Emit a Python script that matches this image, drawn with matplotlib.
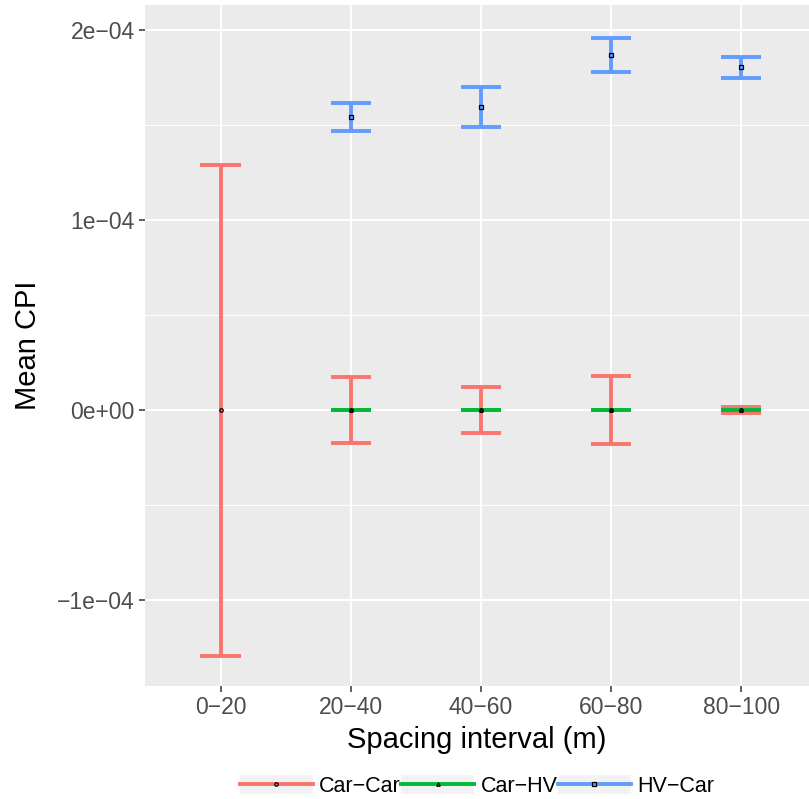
import numpy as np
import matplotlib.pyplot as plt
from matplotlib.patches import Patch
from matplotlib.lines import Line2D
from matplotlib.legend_handler import HandlerTuple
from matplotlib.ticker import FixedLocator

plt.rcParams['font.family'] = ['Liberation Sans', 'DejaVu Sans']

intervals = ['0\u221220', '20\u221240', '40\u221260', '60\u221280', '80\u2212100']
groups = ['Car\u2212Car', 'Car\u2212HV', 'HV\u2212Car']
colors = ['#F8766D', '#00BA38', '#619CFF']
markers = ['o', '^', 's']

# mean CPI and half-width of the error bars
car_car_mean = [0.0, 0.0, 0.0, 0.0, 0.0]
car_car_err = [1.29e-4, 1.75e-5, 1.2e-5, 1.8e-5, 1.5e-6]
car_hv_mean = [np.nan, 0.0, 0.0, 0.0, 0.0]
car_hv_err = [np.nan, 0.0, 0.0, 0.0, 0.0]
hv_car_mean = [np.nan, 1.542e-4, 1.595e-4, 1.868e-4, 1.803e-4]
hv_car_err = [np.nan, 7.4e-6, 1.05e-5, 8.9e-6, 5.5e-6]

means = [car_car_mean, car_hv_mean, hv_car_mean]
errs = [car_car_err, car_hv_err, hv_car_err]

fig = plt.figure(figsize=(8.09, 7.99), dpi=100)
ax = fig.add_axes([145 / 809, 1 - 686 / 799, 664 / 809, 681 / 799])
ax.set_facecolor('#EBEBEB')

x = np.arange(1, len(intervals) + 1)
half = 0.155
lw = 2.8
for m, e, c, mk in zip(means, errs, colors, markers):
    m = np.array(m)
    e = np.array(e)
    ok = ~np.isnan(m)
    ax.vlines(x[ok], (m - e)[ok], (m + e)[ok], color=c, lw=lw, zorder=3)
    ax.hlines((m - e)[ok], x[ok] - half, x[ok] + half, color=c, lw=lw, zorder=3)
    ax.hlines((m + e)[ok], x[ok] - half, x[ok] + half, color=c, lw=lw, zorder=3)
    ax.plot(x[ok], m[ok], mk, ms=2.5, markerfacecolor='none',
            markeredgecolor='black', markeredgewidth=0.9, zorder=4)

ax.set_xlim(0.42, 5.52)
ax.set_ylim(-1.45e-4, 2.13e-4)
ax.set_xticks(x)
ax.set_xticklabels(intervals)
yt = [-1e-4, 0, 1e-4, 2e-4]
ax.set_yticks(yt)
ax.set_yticklabels(['\u22121e\u221204', '0e+00', '1e\u221204', '2e\u221204'])
ax.yaxis.set_minor_locator(FixedLocator([-0.5e-4, 0.5e-4, 1.5e-4]))

ax.grid(True, which='major', color='white', lw=1.4, zorder=0)
ax.grid(True, which='minor', axis='y', color='white', lw=0.7, zorder=0)
ax.set_axisbelow(True)
for s in ax.spines.values():
    s.set_visible(False)
ax.tick_params(which='major', length=4.5, color='#333333', labelsize=16.5,
               labelcolor='#4D4D4D', width=1.1, pad=3)
ax.tick_params(which='minor', length=0)

ax.set_xlabel('Spacing interval (m)', fontsize=21, labelpad=5)
ax.set_ylabel('Mean CPI', fontsize=21)
ax.yaxis.set_label_coords(-0.155, 0.5)

handles = []
for c, mk in zip(colors, markers):
    bg = Patch(facecolor='#F2F2F2', edgecolor='none')
    ln = Line2D([], [], color=c, lw=lw, marker=mk, ms=2.5,
                markerfacecolor='none', markeredgecolor='black',
                markeredgewidth=0.9)
    handles.append((bg, ln))
fig.legend(handles, groups, loc='center', ncol=3,
           bbox_to_anchor=(477 / 809, 13 / 799), frameon=False, fontsize=15.5,
           handler_map={tuple: HandlerTuple(ndivide=1, pad=0)},
           handlelength=3.4, handleheight=1.0, columnspacing=0.0,
           handletextpad=0.3, borderpad=0, borderaxespad=0)

fig.savefig('out.png', dpi=100)
